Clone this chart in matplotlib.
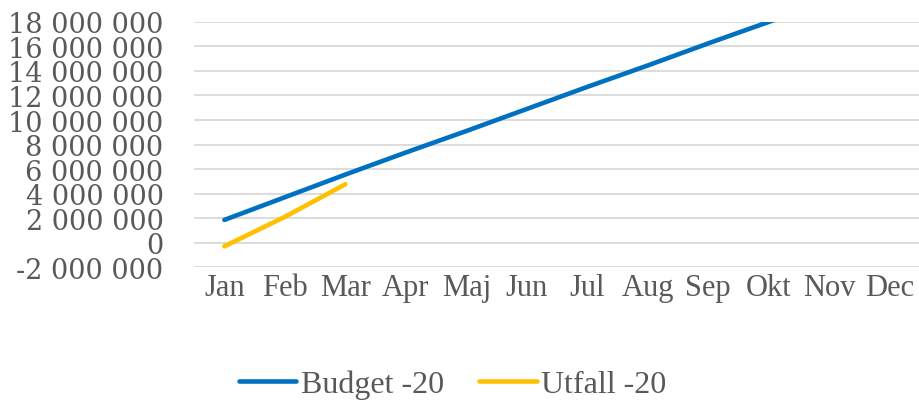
import matplotlib.pyplot as plt
from matplotlib.ticker import FuncFormatter
import numpy as np

months = ['Jan', 'Feb', 'Mar', 'Apr', 'Maj', 'Jun', 'Jul', 'Aug', 'Sep', 'Okt', 'Nov', 'Dec']
budget = [1.85e6, 3.7e6, 5.55e6, 7.35e6, 9.1e6, 10.9e6, 12.7e6, 14.45e6, 16.25e6, 18.0e6, 19.8e6, 21.6e6]
utfall = [-0.3e6, 2.1e6, 4.76e6]

grey = '#595959'

fig = plt.figure(figsize=(9.2, 4.02), dpi=100)
ax = fig.add_axes([0.211, 0.333, 0.789, 0.61])

x = np.arange(len(months))
l, = ax.plot(x, budget, color='#0070c0', linewidth=3.3, solid_capstyle='round')
m, = ax.plot(x[:len(utfall)], utfall, color='#ffc000', linewidth=3.3, solid_capstyle='round')

ax.set_xlim(-0.5, 11.5)
ax.set_ylim(-2e6, 18e6)
ax.set_yticks(np.arange(-2e6, 18e6 + 1, 2e6))
ax.yaxis.set_major_formatter(FuncFormatter(lambda v, p: '{:,.0f}'.format(v).replace(',', ' ')))
ax.set_xticks(x)
ax.set_xticklabels(months)

ax.grid(axis='y', color='#d9d9d9', linewidth=1.3)
ax.set_axisbelow(True)
for s in ax.spines.values():
    s.set_visible(False)
ax.tick_params(length=0)
for label in ax.get_yticklabels():
    label.set_fontfamily('DejaVu Serif')
    label.set_fontsize(19.5)
    label.set_color(grey)
for label in ax.get_xticklabels():
    label.set_fontfamily('Liberation Serif')
    label.set_fontsize(22)
    label.set_color(grey)
ax.tick_params(axis='y', pad=22)
ax.tick_params(axis='x', pad=4)

leg = fig.legend(handles=[l, m], labels=['Budget -20', 'Utfall -20'], loc='center',
                 bbox_to_anchor=(0.492, 0.042), ncol=2, frameon=False,
                 prop={'family': 'Liberation Serif', 'size': 23},
                 handlelength=1.8, handletextpad=0.15, columnspacing=1.1,
                 borderpad=0)
for t in leg.get_texts():
    t.set_color(grey)

fig.savefig('out.png', dpi=100)
